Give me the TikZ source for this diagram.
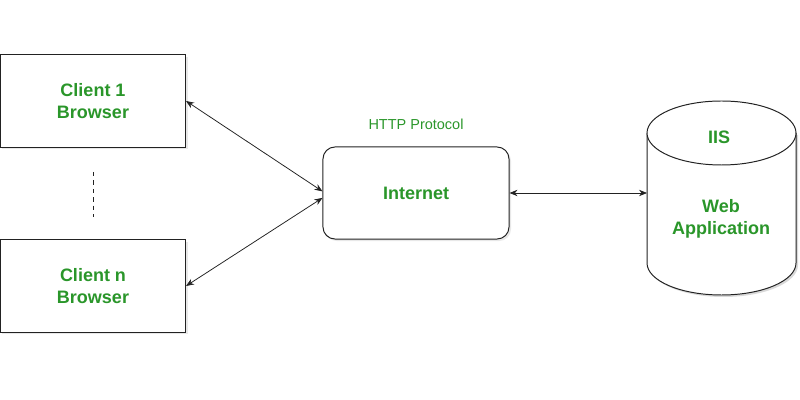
\documentclass[tikz,border=0pt]{standalone}
\usepackage{fontspec}
\setmainfont{Liberation Sans}
\usetikzlibrary{arrows.meta,shadows}
\definecolor{labelgreen}{HTML}{2A962A}
\definecolor{edgegray}{HTML}{222222}

\begin{document}
\begin{tikzpicture}[x=0.025cm, y=0.025cm, >={Stealth[length=0.2cm,width=0.16cm]},
  boxnode/.style={draw=edgegray, line width=0.7pt, fill=white, minimum width=4.625cm, minimum height=2.3cm,
    align=center, text=labelgreen, font=\bfseries\fontsize{12.8}{15.6}\selectfont,
    drop shadow={shadow xshift=0.05cm, shadow yshift=-0.05cm, opacity=0.18}},
  link/.style={draw=edgegray, line width=0.55pt, <->}]
  \useasboundingbox (0,0) rectangle (800,400);

  \node[boxnode] (client1) at (93,299) {Client 1\\Browser};
  \node[boxnode] (clientn) at (93,114) {Client n\\Browser};
  \node[boxnode, rounded corners=0.3cm, minimum width=4.65cm] (internet) at (416,207) {Internet};
  \node[text=labelgreen, font=\fontsize{10.3}{12}\selectfont] (http) at (416,276) {HTTP Protocol};
  \draw[edgegray, line width=0.5pt, dashed] (93,228) -- (93,183);

  % web server cylinder
  \fill[black, opacity=0.15] (649,135) -- (649,265) -- (798,265) -- (798,135) arc (0:-180:74.5 and 32) -- cycle;
  \draw[edgegray, line width=0.7pt, fill=white] (647,267) -- (647,137) arc (180:360:74.5 and 32) -- (796,267);
  \draw[edgegray, line width=0.7pt, fill=white] (721.5,267) ellipse (74.5 and 32);
  \coordinate (webapp) at (647,207);
  \node[text=labelgreen, font=\bfseries\fontsize{12.8}{15.6}\selectfont] (iis) at (719,263) {IIS};
  \node[text=labelgreen, font=\bfseries\fontsize{12.8}{15.6}\selectfont, align=center] (app) at (721,181) {Web\\Application};

  \draw[link] (client1.east) -- (internet.179);
  \draw[link] (clientn.east) -- (internet.183);
  \draw[link] (internet.east) -- (webapp);
\end{tikzpicture}
\end{document}
